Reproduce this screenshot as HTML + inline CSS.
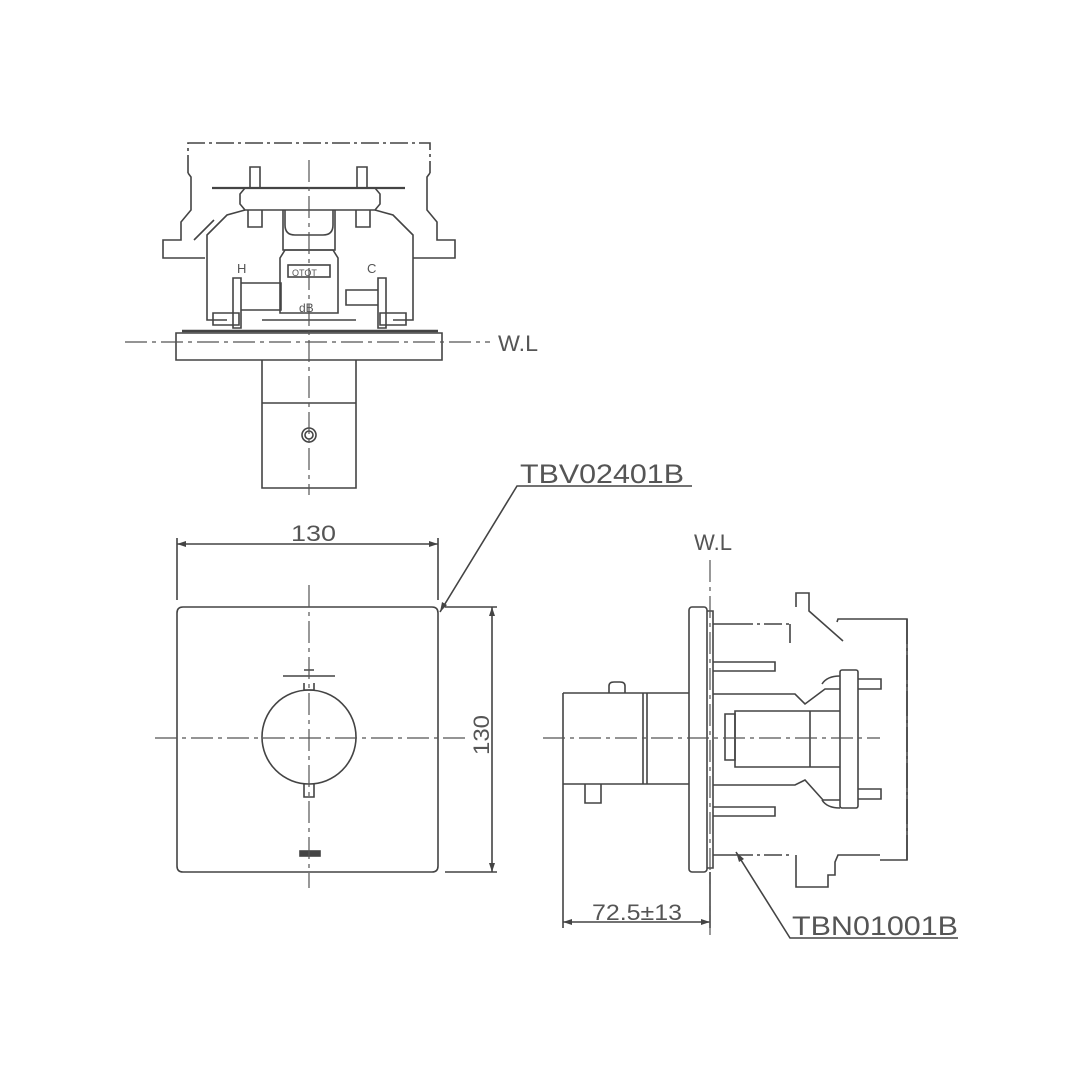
<!DOCTYPE html>
<html><head><meta charset="utf-8"><style>
html,body{margin:0;padding:0;background:#fff;}
svg{display:block}
text{font-family:"Liberation Sans",sans-serif;fill:#555}
</style></head><body>
<svg width="1080" height="1080" viewBox="0 0 1080 1080" xmlns="http://www.w3.org/2000/svg">
<g fill="none" stroke="#444" stroke-width="1.6">
<!-- TOP VIEW -->
<path d="M188,173 V143 H430 V173" stroke-dasharray="18,4,3,4"/>
<path d="M188,173 l3,4 V210 l-10,12 V240 H163 V258 H205 M430,173 l-3,4 V210 l10,12 V240 H455 V258 H413"/>
<path d="M194,240 l20,-20"/>
<path d="M212,188 H405" stroke-width="2.2"/>
<path d="M250,188 V167 H260 V188 M357,188 V167 H367 V188"/>
<path d="M240,194 l5,-6 H375 l5,6 v10 l-5,6 H245 l-5,-6 z"/>
<path d="M245,210 l-18,5 l-20,20 v85 h20 M375,210 l18,5 l20,20 v85 h-20"/>
<path d="M248,210 v17 h14 v-17 M356,210 v17 h14 v-17"/>
<path d="M285,210 v15 q0,10 10,10 h28 q10,0 10,-10 v-15"/>
<path d="M283,210 v40 h52 v-40"/>
<path d="M280,258 l5,-8 h48 l5,8 v55 h-58 z"/>
<rect x="288" y="265" width="42" height="12"/>
<path d="M233,278 v50 h8 v-50 z M378,278 v50 h8 v-50 z"/>
<path d="M241,283 h40 v27 h-40 M378,290 h-32 v15 h32"/>
<path d="M213,313 h26 v12 h-26 z M380,313 h26 v12 h-26 z"/>
<path d="M262,320 H356"/>
<path d="M176,333 H442 V360 H176 z"/>
<path d="M182,331 H438" stroke-width="2.4"/>
<path d="M262,360 V488 H356 V360 M262,403 H356"/>
<circle cx="309" cy="435" r="7"/>
<circle cx="309" cy="435" r="4"/>
<!-- FRONT VIEW -->
<path d="M183,607 H432 Q438,607 438,613 V866 Q438,872 432,872 H183 Q177,872 177,866 V613 Q177,607 183,607 z"/>
<circle cx="309" cy="737" r="47"/>
<path d="M283,676 H335 M304,683 V690 H314 V683 M304,670 H314"/>
<path d="M304,784 V797 H314 V784"/>
<rect x="300" y="851" width="20" height="5" fill="#444"/>
<!-- dimensions front -->
<path d="M177,600 V538 M438,600 V538 M177,544 H438"/>
<path d="M445,607 H497 M445,872 H497 M492,607 V872"/>
<path d="M440,612 L517,486 H692"/>
<!-- SIDE VIEW -->
<rect x="689" y="607" width="18" height="265" rx="3"/>
<path d="M707,611 H713 V868 H707"/>
<path d="M563,693 H689 M563,784 H689 M563,693 V784 M643,693 V784 M647,693 V784"/>
<path d="M609,693 V686 q0,-4 5,-4 h6 q5,0 5,4 v7"/>
<path d="M585,784 V803 H601 V784"/>
<path d="M713,624 H735 M713,855 H735"/>
<path d="M735,624 H790" stroke-dasharray="18,4,3,4"/>
<path d="M735,855 H790" stroke-dasharray="18,4,3,4"/>
<path d="M790,624 V643 M796,607 V593 H809 V611 L843,641 M837,622 L838,619 H880 V619 H907 V860 H880 M880,855 H838 L835,862 V875 H828 V887 H796 V855"/>
<path d="M907,619 V860" stroke-dasharray="25,4,3,4"/>
<path d="M713,662 H775 V671 H713 M713,807 H775 V816 H713"/>
<path d="M713,694 H795 l10,10 l20,-15 H840 M713,785 H795 l10,-5 l18,20 h17"/>
<path d="M735,711 H810 V767 H735 z M810,711 H840 M810,767 H840"/>
<path d="M725,714 h10 v46 h-10 z"/>
<rect x="840" y="670" width="18" height="138" rx="2"/>
<path d="M858,679 H881 V689 H858 M858,789 H881 V799 H858"/>
<path d="M822,684 q5,-8 18,-8 M822,800 q5,8 18,8"/>
<!-- dimension side -->
<path d="M563,784 V928 M710,872 V928 M563,922 H710"/>
<path d="M736,852 L790,938 H958"/>
</g>
<!-- arrowheads -->
<g fill="#444">
<path d="M177,544 l9,-3 v6 z M438,544 l-9,-3 v6 z"/>
<path d="M492,607 l-3,9 h6 z M492,872 l-3,-9 h6 z"/>
<path d="M563,922 l9,-3 v6 z M710,922 l-9,-3 v6 z"/>
<path d="M440,612 l2,-10 l5,3 z M736,852 l8,7 l-5,3 z"/>
</g>
<!-- centre lines -->
<g fill="none" stroke="#555" stroke-width="1.2" stroke-dasharray="22,5,4,5">
<path d="M309,160 V495"/>
<path d="M309,585 V888"/>
<path d="M125,342 H490"/>
<path d="M155,738 H470"/>
<path d="M543,738 H880"/>
<path d="M710,560 V935"/>
</g>
<!-- text -->
<g font-size="22">
<text x="498" y="351" textLength="40" lengthAdjust="spacingAndGlyphs">W.L</text>
<text x="694" y="550" textLength="38" lengthAdjust="spacingAndGlyphs">W.L</text>
<text x="291" y="541" textLength="45" lengthAdjust="spacingAndGlyphs">130</text>
<text x="520" y="483" font-size="27" textLength="164" lengthAdjust="spacingAndGlyphs">TBV02401B</text>
<text x="592" y="920" textLength="90" lengthAdjust="spacingAndGlyphs">72.5±13</text>
<text x="792" y="935" font-size="27" textLength="166" lengthAdjust="spacingAndGlyphs">TBN01001B</text>
<text transform="translate(489,755) rotate(-90)" textLength="40" lengthAdjust="spacingAndGlyphs">130</text>
<text x="237" y="273" font-size="13">H</text>
<text x="367" y="273" font-size="13">C</text>
<text x="292" y="276" font-size="9">OTOT</text>
<text x="299" y="312" font-size="12">dB</text>
</g>
</svg>
</body></html>
